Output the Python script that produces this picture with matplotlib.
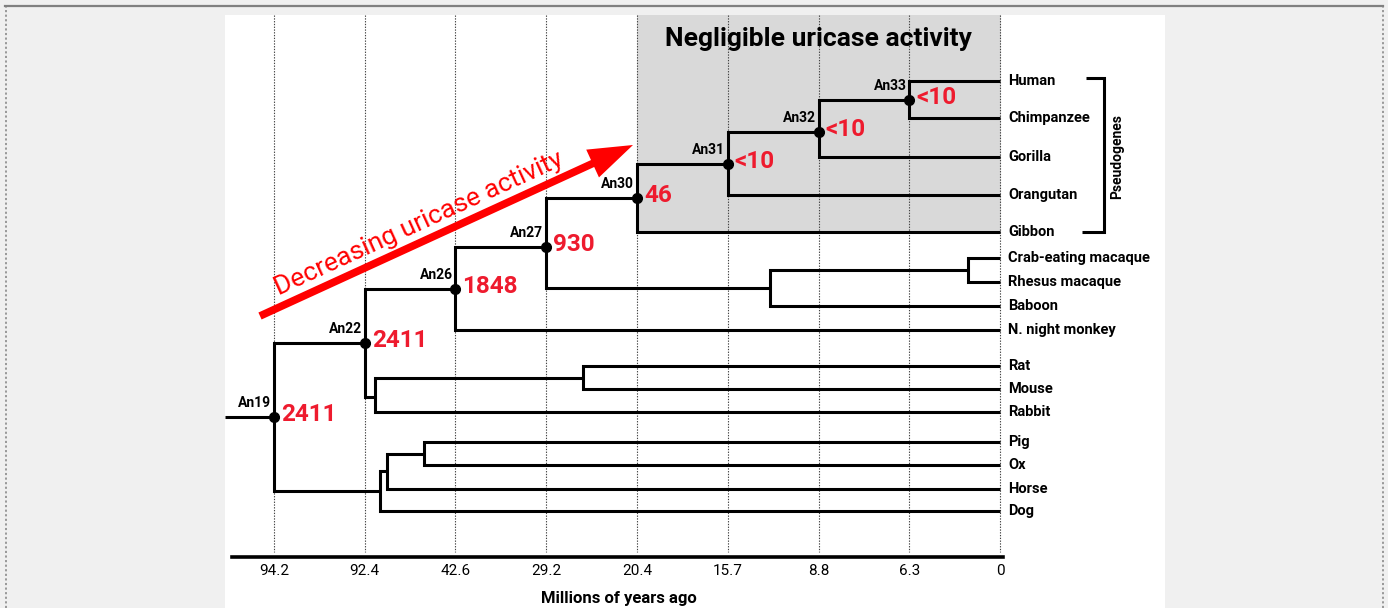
import matplotlib
matplotlib.use('Agg')
import matplotlib.pyplot as plt
from matplotlib.patches import Rectangle, FancyArrowPatch
from matplotlib.lines import Line2D

# ---------------- data ----------------
TICK_LABELS = ['94.2', '92.4', '42.6', '29.2', '20.4', '15.7', '8.8', '6.3', '0']
XLABEL = 'Millions of years ago'

LEAVES = ['Human', 'Chimpanzee', 'Gorilla', 'Orangutan', 'Gibbon',
          'Crab-eating macaque', 'Rhesus macaque', 'Baboon', 'N. night monkey',
          'Rat', 'Mouse', 'Rabbit', 'Pig', 'Ox', 'Horse', 'Dog']

# internal nodes (children listed before parents); position along the time axis in tick-index units
NODE_NAMES = ['An33', 'An32', 'An31', 'An30', 'mac', 'owm', 'An27', 'An26',
              'rm', 'glires', 'An22', 'po', 'ph', 'laur', 'An19']
NODE_POS = [7, 6, 5, 4, 7.65, 5.47, 3, 2, 3.41, 1.11, 1, 1.65, 1.245, 1.17, 0]
NODE_CHILDREN = [('Human', 'Chimpanzee'), ('An33', 'Gorilla'), ('An32', 'Orangutan'),
                 ('An31', 'Gibbon'), ('Crab-eating macaque', 'Rhesus macaque'),
                 ('mac', 'Baboon'), ('An30', 'owm'), ('An27', 'N. night monkey'),
                 ('Rat', 'Mouse'), ('rm', 'Rabbit'), ('An26', 'glires'),
                 ('Pig', 'Ox'), ('po', 'Horse'), ('ph', 'Dog'), ('An22', 'laur')]
NODE_ACTIVITY = ['<10', '<10', '<10', '46', '', '', '930', '1848',
                 '', '', '2411', '', '', '', '2411']

TITLE = 'Negligible uricase activity'
ARROW_TEXT = 'Decreasing uricase activity'
BRACKET_TEXT = 'Pseudogenes'

# ---------------- layout ----------------
W, H = 1388, 608
X0_PX, STEP_PX = 274, 90.75          # pixel of first tick and tick spacing
LEAF_ROW = [81, 118, 157, 195, 232, 258, 282, 306, 330, 366, 389, 412, 442, 465, 489, 511]
ROW_OVERRIDE = {'An32': 132, 'An27': 247, 'glires': 397}
AXIS_ROW = 557
PRESENT = len(TICK_LABELS) - 1

RED = '#ee1b2e'
FONT = ['Liberation Sans Narrow', 'Roboto', 'DejaVu Sans']
plt.rcParams['font.family'] = FONT


def u(px):
    return (px - X0_PX) / STEP_PX


fig = plt.figure(figsize=(W / 100, H / 100), dpi=100, facecolor='#f0f0f0')
ax = fig.add_axes([0, 0, 1, 1])
ax.set_facecolor('none')
ax.set_xlim(u(0), u(W))
ax.set_ylim(H, 0)

# outer frame
fig.add_artist(Line2D([5 / W, 1383 / W], [1 - 6 / H, 1 - 6 / H], transform=fig.transFigure,
                      color='#808080', lw=1.6))
for xp in (5.5, 1383):
    fig.add_artist(Line2D([xp / W, xp / W], [0, 1 - 6 / H], transform=fig.transFigure,
                          color='#808080', lw=1.1, linestyle=(0, (1.4, 1.6))))

# white panel
ax.add_patch(Rectangle((u(225), 15), u(1165) - u(225), H, facecolor='white',
                       edgecolor='none', zorder=0))
# gray shaded region
ax.add_patch(Rectangle((4, 15), PRESENT + 0.01 - 4, 234 - 15, facecolor='#d9d9d9',
                       edgecolor='none', zorder=0.5))

# dotted guide lines
ax.vlines(range(len(TICK_LABELS)), 15, 552, colors='#444444', lw=0.8,
          linestyles=[(0, (1.2, 1.3))], zorder=1)

# ---------------- tree ----------------
pos, row = {}, {}
for leaf, r in zip(LEAVES, LEAF_ROW):
    pos[leaf] = PRESENT
    row[leaf] = r
for name, p, ch in zip(NODE_NAMES, NODE_POS, NODE_CHILDREN):
    pos[name] = p
    row[name] = ROW_OVERRIDE.get(name, sum(row[c] for c in ch) / len(ch))

LW = 2.2
for name, ch in zip(NODE_NAMES, NODE_CHILDREN):
    c1, c2 = ch
    p = pos[name]
    ax.plot([pos[c1], p, p, pos[c2]], [row[c1], row[c1], row[c2], row[c2]],
            color='black', lw=LW, solid_joinstyle='miter', solid_capstyle='butt', zorder=3)

# root stub
ax.plot([u(225), pos['An19']], [row['An19'], row['An19']], color='black', lw=LW,
        solid_capstyle='butt', zorder=3)

for name, act in zip(NODE_NAMES, NODE_ACTIVITY):
    if not name.startswith('An'):
        continue
    p, r = pos[name], row[name]
    ax.plot(p, r, 'o', ms=7, color='black', zorder=4)
    ax.annotate(name, (p, r), xytext=(-2, 10), textcoords='offset points',
                ha='right', va='center', fontsize=10, fontweight='bold', zorder=5)
    ax.annotate(act, (p, r), xytext=(5, 1.5), textcoords='offset points',
                ha='left', va='center', fontsize=17.5, fontweight='bold', color=RED, zorder=5)

for leaf in LEAVES:
    ax.annotate(leaf, (pos[leaf], row[leaf]), xytext=(6, 0), textcoords='offset points',
                ha='left', va='center', fontsize=10.5, fontweight='bold')

# bracket
ax.plot([u(1086), u(1104), u(1104), u(1082)], [78, 78, 232, 232], color='black', lw=LW,
        solid_joinstyle='miter', solid_capstyle='butt')
ax.text(u(1117), 157, BRACKET_TEXT, rotation=90, ha='center', va='center',
        fontsize=10, fontweight='bold', family=['Roboto', 'DejaVu Sans'])

# title
ax.text((4 + PRESENT) / 2, 39, TITLE, ha='center', va='center', fontsize=19,
        fontweight='bold')

# red arrow + text
ax.add_patch(FancyArrowPatch((u(260), 316), (u(633), 145),
                             arrowstyle='simple,head_length=3.2,head_width=2.2,tail_width=0.55',
                             mutation_scale=10, color='#ff0000', lw=0, shrinkA=0, shrinkB=0,
                             zorder=6))
ax.text(u(419), 224, ARROW_TEXT, rotation=24.6, rotation_mode='anchor', ha='center',
        va='center', color='#ff0000', fontsize=19, zorder=6)

# ---------------- axis ----------------
for s in ('left', 'top', 'right'):
    ax.spines[s].set_visible(False)
ax.spines['bottom'].set_position(('data', AXIS_ROW))
ax.spines['bottom'].set_bounds(u(232), u(1003))
ax.spines['bottom'].set_linewidth(2.6)
ax.set_yticks([])
ax.set_xticks(range(len(TICK_LABELS)))
ax.set_xticklabels(TICK_LABELS)
ax.tick_params(axis='x', length=0, pad=5, labelsize=11)
ax.set_xlabel(XLABEL, fontsize=12, fontweight='bold')
ax.xaxis.set_label_coords(619 / W, 1 - 598 / H)
ax.xaxis.label.set_va('center')

fig.savefig('out.png', dpi=100, facecolor=fig.get_facecolor())
